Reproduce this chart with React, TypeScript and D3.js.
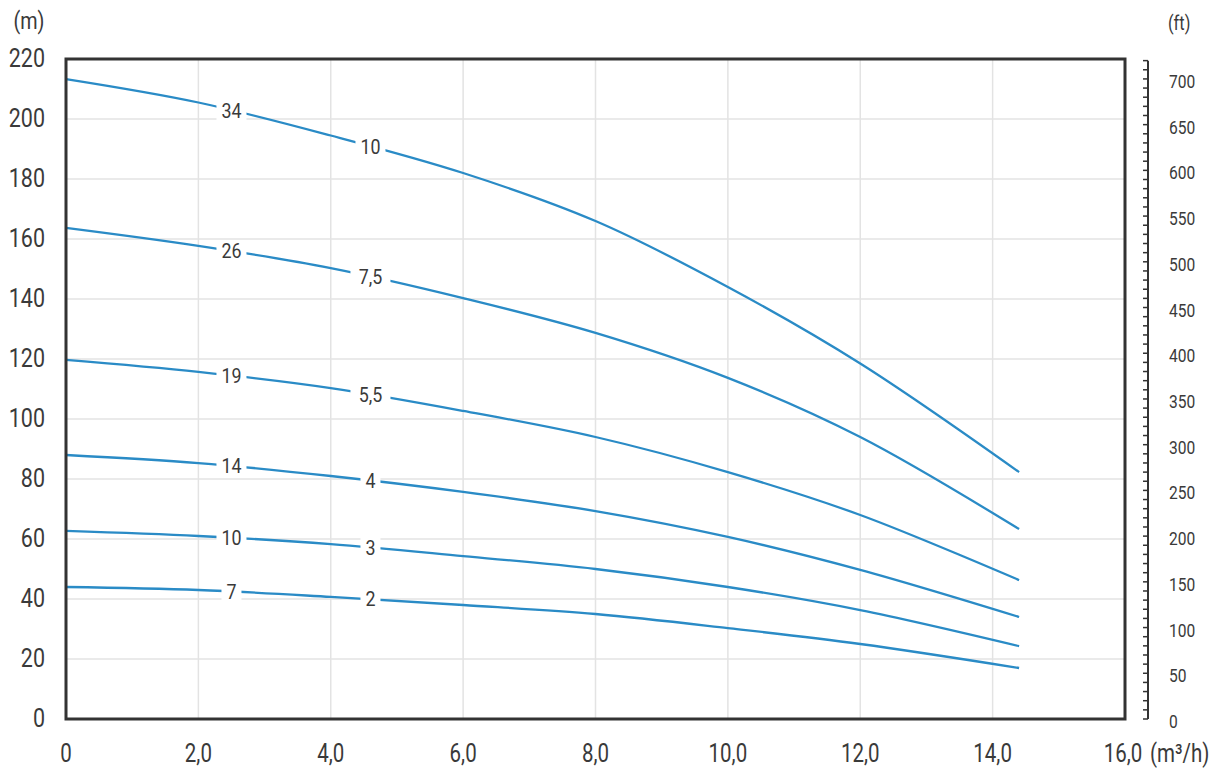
import React from "react";
import * as d3 from "d3";

const flows = [0, 2, 4, 6, 8, 10, 12, 14.4];
const curveStages = ["34", "26", "19", "14", "10", "7"];
const curvePower = ["10", "7,5", "5,5", "4", "3", "2"];
const head34 = [213.3, 205.5, 194.5, 182, 166, 144, 118.5, 82.3];
const head26 = [163.7, 157.7, 150.3, 140.3, 128.7, 113.7, 94, 63.3];
const head19 = [119.7, 115.7, 110.3, 102.7, 94, 82.3, 68, 46.3];
const head14 = [88, 85.3, 81, 75.7, 69.3, 60.7, 49.7, 34];
const head10 = [62.7, 61, 58.3, 54.3, 50, 44, 36.3, 24.3];
const head7 = [44, 43, 40.7, 38, 35, 30.3, 25, 17];
const series = [head34, head26, head19, head14, head10, head7];
const xTicks = [0, 2, 4, 6, 8, 10, 12, 14, 16];
const yTicks = [0, 20, 40, 60, 80, 100, 120, 140, 160, 180, 200, 220];
const ftTicks = [0, 50, 100, 150, 200, 250, 300, 350, 400, 450, 500, 550, 600, 650, 700];
const stageLabelFlow = 2.5;
const powerLabelFlow = 4.6;

const W = 1213, H = 772;
const L = 66, R = 1125, T = 59, B = 719;
const FONT = "Roboto, 'Liberation Sans', Arial, sans-serif";
const labelColor = "#3a3a3a";

function Txt(props: { x: number; y: number; size: number; sx: number; anchor?: string; children: React.ReactNode }) {
  const { x, y, size, sx, anchor, children } = props;
  return (
    <text transform={`translate(${x},${y}) scale(${sx},1)`} textAnchor={anchor || "start"} fontSize={size} fill={labelColor}>
      {children}
    </text>
  );
}

export default function App() {
  const x = d3.scaleLinear().domain([0, 16]).range([L, R]);
  const y = d3.scaleLinear().domain([0, 220]).range([B, T]);
  const ftToM = 0.3048;
  const yft = (ft: number) => y(ft * ftToM);
  const line = d3.line<[number, number]>().x(d => x(d[0])).y(d => y(d[1])).curve(d3.curveCatmullRom.alpha(0.5));
  const fmt = (v: number) => (v === 0 ? "0" : v.toFixed(1).replace(".", ","));
  const interp = (s: number[], f: number) => {
    for (let i = 0; i < flows.length - 1; i++) {
      if (f >= flows[i] && f <= flows[i + 1]) {
        const t = (f - flows[i]) / (flows[i + 1] - flows[i]);
        return s[i] + t * (s[i + 1] - s[i]);
      }
    }
    return s[s.length - 1];
  };
  const minorFt = d3.range(0, 721, 10);
  const axisX = 1148;

  return (
    <svg width={W} height={H} style={{ position: "absolute", left: 0, top: 0, background: "#fff" }} fontFamily={FONT}>
      {xTicks.slice(1, -1).map(t => (
        <line key={"gx" + t} x1={x(t)} x2={x(t)} y1={T} y2={B} stroke="#e3e3e3" strokeWidth={1.5} />
      ))}
      {yTicks.slice(1, -1).map(t => (
        <line key={"gy" + t} x1={L} x2={R} y1={y(t)} y2={y(t)} stroke="#e3e3e3" strokeWidth={1.5} />
      ))}
      {series.map((s, i) => (
        <path key={"c" + i} d={line(flows.map((f, j) => [f, s[j]] as [number, number])) || ""} fill="none" stroke="#2a8bc6" strokeWidth={2.3} />
      ))}
      {series.map((s, i) => {
        const items = [
          { f: stageLabelFlow, t: curveStages[i] },
          { f: powerLabelFlow, t: curvePower[i] },
        ];
        return items.map((it, k) => {
          const cx = x(it.f), cy = y(interp(s, it.f));
          const w = it.t.length * 10 + 10;
          return (
            <g key={"l" + i + "-" + k}>
              <rect x={cx - w / 2} y={cy - 11} width={w} height={22} fill="#fff" />
              <Txt x={cx} y={cy + 7} size={21} sx={0.85} anchor="middle">{it.t}</Txt>
            </g>
          );
        });
      })}
      <rect x={L} y={T} width={R - L} height={B - T} fill="none" stroke="#333" strokeWidth={3} />
      {yTicks.map(t => (
        <Txt key={"yl" + t} x={45} y={y(t) + 8} size={25} sx={0.86} anchor="end">{t}</Txt>
      ))}
      <Txt x={29} y={29} size={23} sx={0.86} anchor="middle">(m)</Txt>
      {xTicks.map(t => (
        <Txt key={"xl" + t} x={x(t) - (t === 16 ? 2 : 0)} y={762} size={25} sx={0.82} anchor="middle">{fmt(t)}</Txt>
      ))}
      <Txt x={1150} y={762} size={25} sx={0.82}>(m³/h)</Txt>
      <line x1={axisX} x2={axisX} y1={yft(720)} y2={B} stroke="#333" strokeWidth={2} />
      {minorFt.map(t => (
        <line key={"ft" + t} x1={axisX - 5} x2={axisX} y1={yft(t)} y2={yft(t)} stroke="#333" strokeWidth={1.5} />
      ))}
      {ftTicks.map(t => (
        <Txt key={"fl" + t} x={1169} y={yft(t) + 9} size={19} sx={0.82}>{t}</Txt>
      ))}
      <Txt x={1168} y={30} size={20} sx={0.82}>(ft)</Txt>
    </svg>
  );
}
